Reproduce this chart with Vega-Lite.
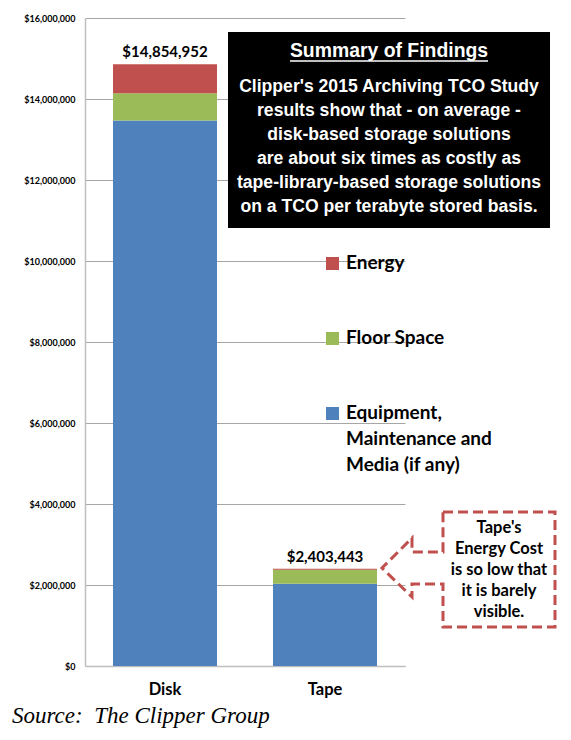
{
  "$schema": "https://vega.github.io/schema/vega-lite/v6.json",
  "width": 320,
  "height": 648,
  "autosize": {"type": "none"},
  "padding": {"left": 85, "top": 18, "right": 166, "bottom": 74},
  "background": "white",
  "config": {"view": {"stroke": null}, "font": "Lato"},
  "title": {
    "text": "Source:\u00a0 The Clipper Group",
    "orient": "bottom",
    "anchor": "start",
    "frame": "group",
    "font": "Liberation Serif",
    "fontStyle": "italic",
    "fontWeight": "normal",
    "fontSize": 23,
    "color": "#000000",
    "dx": -73,
    "offset": 7
  },
  "data": {
    "values": [
      {"tech": "Disk", "component": "Equipment, Maintenance and Media (if any)", "stack_rank": 1, "cost": 13470000},
      {"tech": "Disk", "component": "Floor Space", "stack_rank": 2, "cost": 670000},
      {"tech": "Disk", "component": "Energy", "stack_rank": 3, "cost": 714952},
      {"tech": "Tape", "component": "Equipment, Maintenance and Media (if any)", "stack_rank": 1, "cost": 2030000},
      {"tech": "Tape", "component": "Floor Space", "stack_rank": 2, "cost": 348443},
      {"tech": "Tape", "component": "Energy", "stack_rank": 3, "cost": 25000}
    ]
  },
  "layer": [
    {
      "mark": {"type": "bar"},
      "encoding": {
        "x": {
          "field": "tech",
          "type": "nominal",
          "scale": {"paddingInner": 0.35, "paddingOuter": 0.175},
          "axis": {
            "title": null,
            "labelAngle": 0,
            "labelFont": "Lato",
            "labelFontWeight": "bold",
            "labelFontSize": 16.5,
            "labelColor": "#000000",
            "ticks": false,
            "labelPadding": 15,
            "domainColor": "#BFBFBF",
            "domainWidth": 1.5
          }
        },
        "y": {
          "field": "cost",
          "type": "quantitative",
          "stack": "zero",
          "scale": {"domain": [0, 16000000], "nice": false},
          "axis": {
            "title": null,
            "values": [0, 2000000, 4000000, 6000000, 8000000, 10000000, 12000000, 14000000, 16000000],
            "format": "$,.0f",
            "labelFont": "Lato",
            "labelFontWeight": "bold",
            "labelFontSize": 9,
            "labelColor": "#000000",
            "ticks": false,
            "labelPadding": 10,
            "grid": true,
            "gridColor": "#A6A6A6",
            "domainColor": "#BFBFBF",
            "domainWidth": 1.5
          }
        },
        "order": {"field": "stack_rank", "type": "quantitative", "sort": "ascending"},
        "color": {
          "field": "component",
          "type": "nominal",
          "sort": ["Energy", "Floor Space", "Equipment, Maintenance and Media (if any)"],
          "scale": {
            "domain": ["Energy", "Floor Space", "Equipment, Maintenance and Media (if any)"],
            "range": ["#C0504D", "#9BBB59", "#4F81BD"]
          },
          "legend": {
            "title": null,
            "orient": "none",
            "legendX": 238,
            "legendY": 236,
            "padding": 0,
            "symbolType": "square",
            "symbolSize": 169,
            "symbolStrokeWidth": 0,
            "labelFont": "Lato",
            "labelFontWeight": "bold",
            "labelFontSize": 19,
            "labelColor": "#000000",
            "labelOffset": 4,
            "labelLimit": 300,
            "rowPadding": 55,
            "labelBaseline": "top",
            "labelExpr": "datum.label == 'Equipment, Maintenance and Media (if any)' ? ['Equipment,', 'Maintenance and', 'Media (if any)'] : datum.label",
            "encode": {"labels": {"update": {"dy": {"value": -10}, "lineHeight": {"value": 26}}}}
          }
        }
      }
    },
    {
      "transform": [{"aggregate": [{"op": "sum", "field": "cost", "as": "total"}], "groupby": ["tech"]}],
      "mark": {"type": "text", "font": "Lato", "fontWeight": "bold", "fontSize": 15, "baseline": "alphabetic", "dy": -7, "color": "#000000"},
      "encoding": {
        "x": {"field": "tech", "type": "nominal"},
        "y": {"field": "total", "type": "quantitative"},
        "text": {"field": "total", "type": "quantitative", "format": "$,.0f"}
      }
    },
    {
      "data": {"values": [{"box": "summary"}]},
      "mark": {"type": "rect", "color": "#000000"},
      "encoding": {
        "x": {"datum": "Tape", "bandPosition": -0.4327},
        "x2": {"datum": "Tape", "bandPosition": 2.6635},
        "y": {"datum": 15654000},
        "y2": {"datum": 10815000}
      }
    },
    {
      "data": {"values": [{"line": "underline"}]},
      "mark": {"type": "rule", "color": "#FFFFFF", "strokeWidth": 1.5},
      "encoding": {
        "x": {"datum": "Tape", "bandPosition": 0.1635},
        "x2": {"datum": "Tape", "bandPosition": 2.0673},
        "y": {"datum": 14938000}
      }
    },
    {
      "data": {"values": [{"t": "Summary of Findings"}]},
      "mark": {"type": "text", "font": "Liberation Sans", "fontWeight": "bold", "fontSize": 19.4, "color": "#FFFFFF", "baseline": "middle", "dx": 64},
      "encoding": {
        "x": {"datum": "Tape"},
        "y": {"datum": 15185000},
        "text": {"field": "t", "type": "nominal"}
      }
    },
    {
      "data": {"values": [{"lines": ["Clipper's 2015 Archiving TCO Study", "results show that - on average -", "disk-based storage solutions", "are about six times as costly as", "tape-library-based storage solutions", "on a TCO per terabyte stored basis."]}]},
      "mark": {"type": "text", "font": "Liberation Sans", "fontWeight": "bold", "fontSize": 17.6, "lineHeight": 24, "color": "#FFFFFF", "baseline": "middle", "dx": 64},
      "encoding": {
        "x": {"datum": "Tape"},
        "y": {"datum": 14296000},
        "text": {"field": "lines", "type": "nominal"}
      }
    },
    {
      "data": {"values": [{"c": "callout"}]},
      "mark": {"type": "point", "shape": "M118,-73H230V42H118V-1H87V12L57,-17L87,-47V-33H118Z", "size": 4, "filled": false, "stroke": "#C0504D", "strokeWidth": 3, "strokeDash": [10, 5], "opacity": 1},
      "encoding": {
        "x": {"datum": "Tape"},
        "y": {"datum": 2000000}
      }
    },
    {
      "data": {"values": [{"lines": ["Tape's", "Energy Cost", "is so low that", "it is barely", "visible."]}]},
      "mark": {"type": "text", "font": "Lato", "fontWeight": "bold", "fontSize": 16.5, "lineHeight": 21, "color": "#000000", "baseline": "middle", "dx": 174},
      "encoding": {
        "x": {"datum": "Tape"},
        "y": {"datum": 3407000},
        "text": {"field": "lines", "type": "nominal"}
      }
    }
  ]
}
